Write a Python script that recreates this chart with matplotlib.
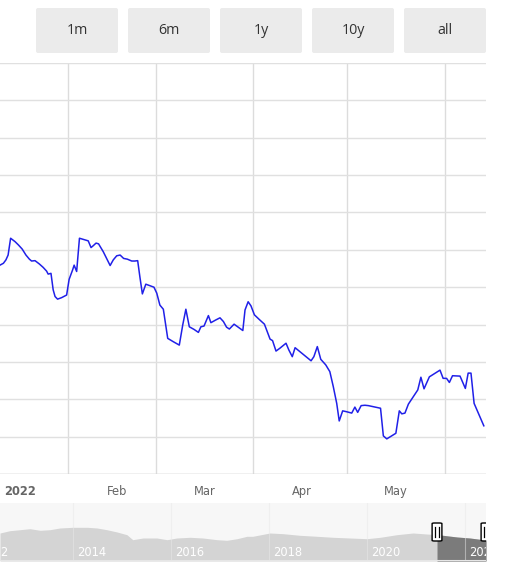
import matplotlib
matplotlib.use("Agg")
import matplotlib.pyplot as plt
from matplotlib.patches import FancyBboxPatch

# main series: days since 1 Jan 2022, value in grid units
days = [-6.4, -5.3, -4.5, -3.8, -3.0, -1.6, -0.5, 0.7, 1.9, 3.0,
        3.7, 4.8, 6.2, 7.4, 8.5, 9.0, 9.9, 10.6, 11.2, 12.0,
        13.3, 14.9, 15.7, 16.8, 17.3, 18.1, 19.0, 20.2, 21.8, 22.7,
        23.4, 24.3, 25.1, 26.6, 28.8, 29.8, 30.9, 32.0, 33.1, 34.3,
        35.7, 36.7, 37.6, 38.3, 39.1, 40.2, 41.5, 42.8, 43.7, 44.7,
        45.8, 47.2, 49.0, 50.9, 52.0, 53.0, 54.1, 55.6, 57.0, 57.8,
        58.8, 60.2, 61.0, 62.5, 63.9, 65.0, 66.0, 66.9, 68.4, 69.7,
        71.2, 71.9, 72.9, 73.8, 74.9, 76.4, 78.1, 79.0, 79.9, 80.7,
        81.8, 83.1, 85.0, 85.9, 87.0, 87.9, 90.5, 93.0, 93.9, 95.0,
        96.1, 97.7, 99.0, 100.1, 101.2, 102.0, 103.1, 104.2, 106.0, 107.0,
        107.9, 109.0, 110.2, 111.3, 115.2, 116.1, 117.2, 120.1, 121.2, 122.0,
        123.0, 124.1, 125.7, 127.1, 128.1, 129.1, 130.8, 132.3, 134.2, 135.2,
        136.3, 137.2, 138.2, 140.6, 142.3, 143.2, 144.1, 145.1, 148.2]
values = [5.59, 5.64, 5.73, 5.86, 6.31, 6.22, 6.13, 6.02, 5.86, 5.75,
          5.70, 5.71, 5.62, 5.53, 5.43, 5.35, 5.37, 4.93, 4.75, 4.68,
          4.72, 4.79, 5.21, 5.46, 5.59, 5.42, 6.31, 6.28, 6.24, 6.06,
          6.11, 6.18, 6.16, 5.95, 5.58, 5.73, 5.84, 5.86, 5.77, 5.75,
          5.70, 5.70, 5.71, 5.28, 4.82, 5.08, 5.04, 5.00, 4.84, 4.52,
          4.41, 3.63, 3.54, 3.45, 3.99, 4.41, 3.94, 3.87, 3.79, 3.94,
          3.96, 4.24, 4.05, 4.12, 4.18, 4.08, 3.93, 3.88, 4.01, 3.93,
          3.84, 4.39, 4.61, 4.50, 4.26, 4.14, 4.01, 3.81, 3.61, 3.57,
          3.29, 3.37, 3.50, 3.32, 3.14, 3.38, 3.20, 3.03, 3.14, 3.41,
          3.07, 2.92, 2.74, 2.34, 1.89, 1.42, 1.69, 1.67, 1.63, 1.79,
          1.65, 1.83, 1.84, 1.83, 1.76, 1.02, 0.94, 1.09, 1.69, 1.61,
          1.63, 1.87, 2.07, 2.25, 2.59, 2.28, 2.60, 2.68, 2.78, 2.56,
          2.56, 2.45, 2.63, 2.62, 2.29, 2.70, 2.70, 1.89, 1.29]

month_ticks = [0, 31, 59, 90, 120]
month_labels = ['2022', 'Feb', 'Mar', 'Apr', 'May']
vgrid_days = [15.3, 43.5, 74.4, 104.5, 135.8]

# navigator series (years, relative height)
nav_years = [2012.51, 2012.71, 2012.92, 2013.12, 2013.33, 2013.53, 2013.73, 2014.00,
             2014.29, 2014.49, 2014.69, 2014.90, 2015.10, 2015.22, 2015.43, 2015.71,
             2015.92, 2016.12, 2016.39, 2016.65, 2016.94, 2017.14, 2017.35, 2017.55,
             2017.67, 2018.02, 2018.29, 2018.63, 2018.98, 2019.31, 2019.65, 2020.00,
             2020.27, 2020.61, 2020.94, 2021.22, 2021.43, 2021.55, 2021.84, 2022.10,
             2022.37, 2022.43]
nav_values = [28, 30.3, 31.3, 32.3, 30.7, 31.3, 33, 33.7,
              33.7, 33, 31.3, 29, 26.3, 21.3, 23, 23,
              21.3, 23, 23.7, 23, 21.3, 20.7, 22.3, 24.7,
              24.7, 28, 27.3, 25.7, 24.7, 23.7, 23, 22.3,
              23.7, 26.3, 28, 27, 26.3, 25.7, 24, 23,
              21.3, 21]
nav_label_years = [2012, 2014, 2016, 2018, 2020, 2022]
sel_start, sel_end = 2021.43, 2022.43

buttons = ['1m', '6m', '1y', '10y', 'all']

W, H = 517, 581
fig = plt.figure(figsize=(W / 100, H / 100), dpi=100)

# main chart
ax = fig.add_axes([0, 1 - 474 / H, 486 / W, 411 / H])
ax.set_xlim(-6.39, 148.9)
ax.set_ylim(0, 11)
ax.set_yticks(range(0, 12))
ax.yaxis.grid(True, color='#e0e0e0', linewidth=1)
for d in vgrid_days:
    ax.axvline(d, color='#dcdcdc', linewidth=1, zorder=0)
ax.plot(days, values, color='#2020e8', linewidth=1.1, zorder=3)
ax.set_xticks(month_ticks)
ax.set_xticklabels(month_labels, fontsize=8.3, color='#666666')
ax.get_xticklabels()[0].set_fontweight('bold')
ax.tick_params(axis='x', length=0, pad=8)
ax.tick_params(axis='y', length=0, labelleft=False)
for s in ax.spines.values():
    s.set_visible(False)
ax.axhline(0, color='#cccccc', linewidth=1, zorder=1)

# navigator
nav = fig.add_axes([0, 1 - 561 / H, 486 / W, 58 / H])
nav.set_facecolor('#f7f7f7')
nav.set_xlim(2012.51, 2022.43)
nav.set_ylim(0, 58)
nav.fill_between(nav_years, 0, nav_values, color='#d4d4d4', linewidth=0, zorder=1)
sel = [(x, v) for x, v in zip(nav_years, nav_values) if x >= sel_start]
nav.fill_between([x for x, _ in sel], 0, [v for _, v in sel], color='#7b7b7b',
                 linewidth=0, zorder=2)
for yr in nav_label_years:
    nav.axvline(yr, color='#e8e8e8', linewidth=0.8, alpha=0.5, zorder=3)
    nav.text(yr + 0.08, 8, str(yr), color='white', fontsize=8.3, va='center',
             ha='left', clip_on=True, zorder=4)
for xh in (sel_start, sel_end):
    hb = FancyBboxPatch((xh - 0.1, 20), 0.2, 18,
                        boxstyle='round,pad=0,rounding_size=0.05',
                        facecolor='white', edgecolor='black', linewidth=1,
                        zorder=5, mutation_aspect=12, clip_on=True)
    nav.add_patch(hb)
    for dx in (-0.035, 0.035):
        nav.plot([xh + dx, xh + dx], [24, 34], color='black', linewidth=0.9,
                 zorder=6, clip_on=True)
nav.set_xticks([])
nav.set_yticks([])
for s in nav.spines.values():
    s.set_visible(False)
nav.axhline(0, color='#e6e6e6', linewidth=1.5, zorder=6)

# range selector buttons
over = fig.add_axes([0, 0, 1, 1], facecolor='none')
over.set_xlim(0, W)
over.set_ylim(H, 0)
over.axis('off')
for i, lab in enumerate(buttons):
    x0 = 36 + i * 92
    over.add_patch(FancyBboxPatch((x0, 8), 82, 45,
                                  boxstyle='round,pad=0,rounding_size=2',
                                  facecolor='#ebebeb', edgecolor='none'))
    over.text(x0 + 41, 30.5, lab, ha='center', va='center', fontsize=10.3,
              color='#333333', family=['Open Sans', 'DejaVu Sans'])

fig.savefig('out.png', dpi=100)
